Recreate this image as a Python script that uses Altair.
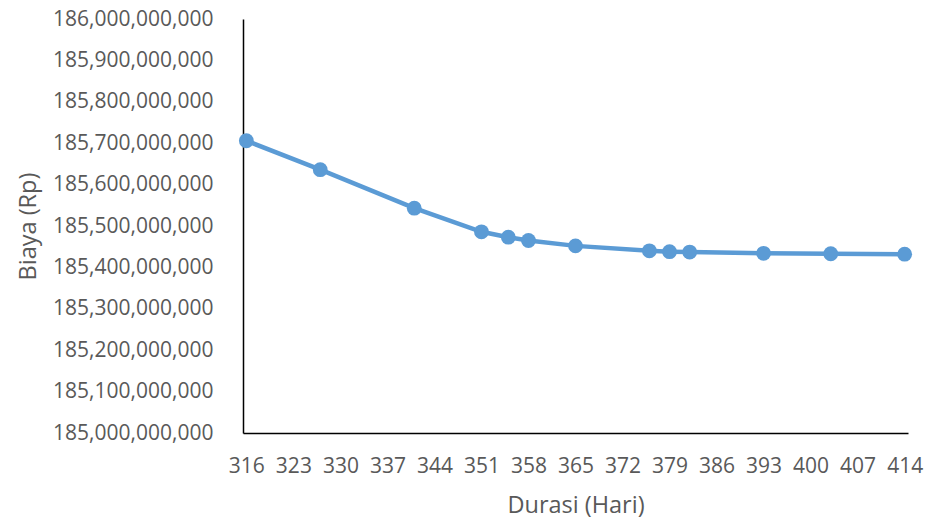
import altair as alt
import pandas as pd

durasi = [316, 327, 341, 351, 355, 358, 365, 376, 379, 382, 393, 403, 414]
biaya = [185706000000, 185636000000, 185543000000, 185486000000, 185473000000,
         185465000000, 185452000000, 185440000000, 185438000000, 185437000000,
         185434000000, 185433000000, 185432000000]
x_ticks = [316, 323, 330, 337, 344, 351, 358, 365, 372, 379, 386, 393, 400, 407, 414]
y_ticks = [185000000000 + i * 100000000 for i in range(11)]

df = pd.DataFrame({"Durasi": durasi, "Biaya": biaya})

FONT = "Open Sans"
TXT = "#595959"
BLUE = "#5B9BD5"

x_enc = alt.X(
    "Durasi:Q",
    scale=alt.Scale(domain=[315.5, 414.5], nice=False, zero=False),
    axis=alt.Axis(
        title="Durasi (Hari)", values=x_ticks, format="d", grid=False,
        ticks=False, tickSize=0, domainColor="#000000", domainWidth=1.5,
        labelFont=FONT, labelFontSize=21, labelColor=TXT,
        labelBaseline="alphabetic", labelPadding=39, labelFlush=False,
        labelOverlap=False,
        titleFont=FONT, titleFontSize=23.5, titleColor=TXT, titleFontWeight="normal",
        titleBaseline="alphabetic", titleY=79,
    ),
)
y_enc = alt.Y(
    "Biaya:Q",
    scale=alt.Scale(domain=[185000000000, 186000000000], nice=False, zero=False),
    axis=alt.Axis(
        title="Biaya (Rp)", values=y_ticks, format=",.0f", grid=False,
        ticks=False, tickSize=0, domainColor="#000000", domainWidth=1.5,
        labelFont=FONT, labelFontSize=21, labelColor=TXT,
        labelPadding=30, labelFlush=False, labelOverlap=False,
        titleFont=FONT, titleFontSize=23.5, titleColor=TXT, titleFontWeight="normal",
        titleBaseline="alphabetic", titleX=-208, titleY=207, titleAngle=-90,
    ),
)

base = alt.Chart(df).encode(x=x_enc, y=y_enc)
line = base.mark_line(color=BLUE, strokeWidth=4.5)
pts = base.mark_circle(color=BLUE, size=220, opacity=1)

chart = (line + pts).properties(
    width=665, height=414,
    autosize=alt.AutoSizeParams(type="none"),
    padding={"left": 243, "top": 19, "right": 21, "bottom": 86},
    background="white",
).configure_view(stroke=None)

chart.save("out.html", embed_options={"renderer": "svg", "actions": False})
